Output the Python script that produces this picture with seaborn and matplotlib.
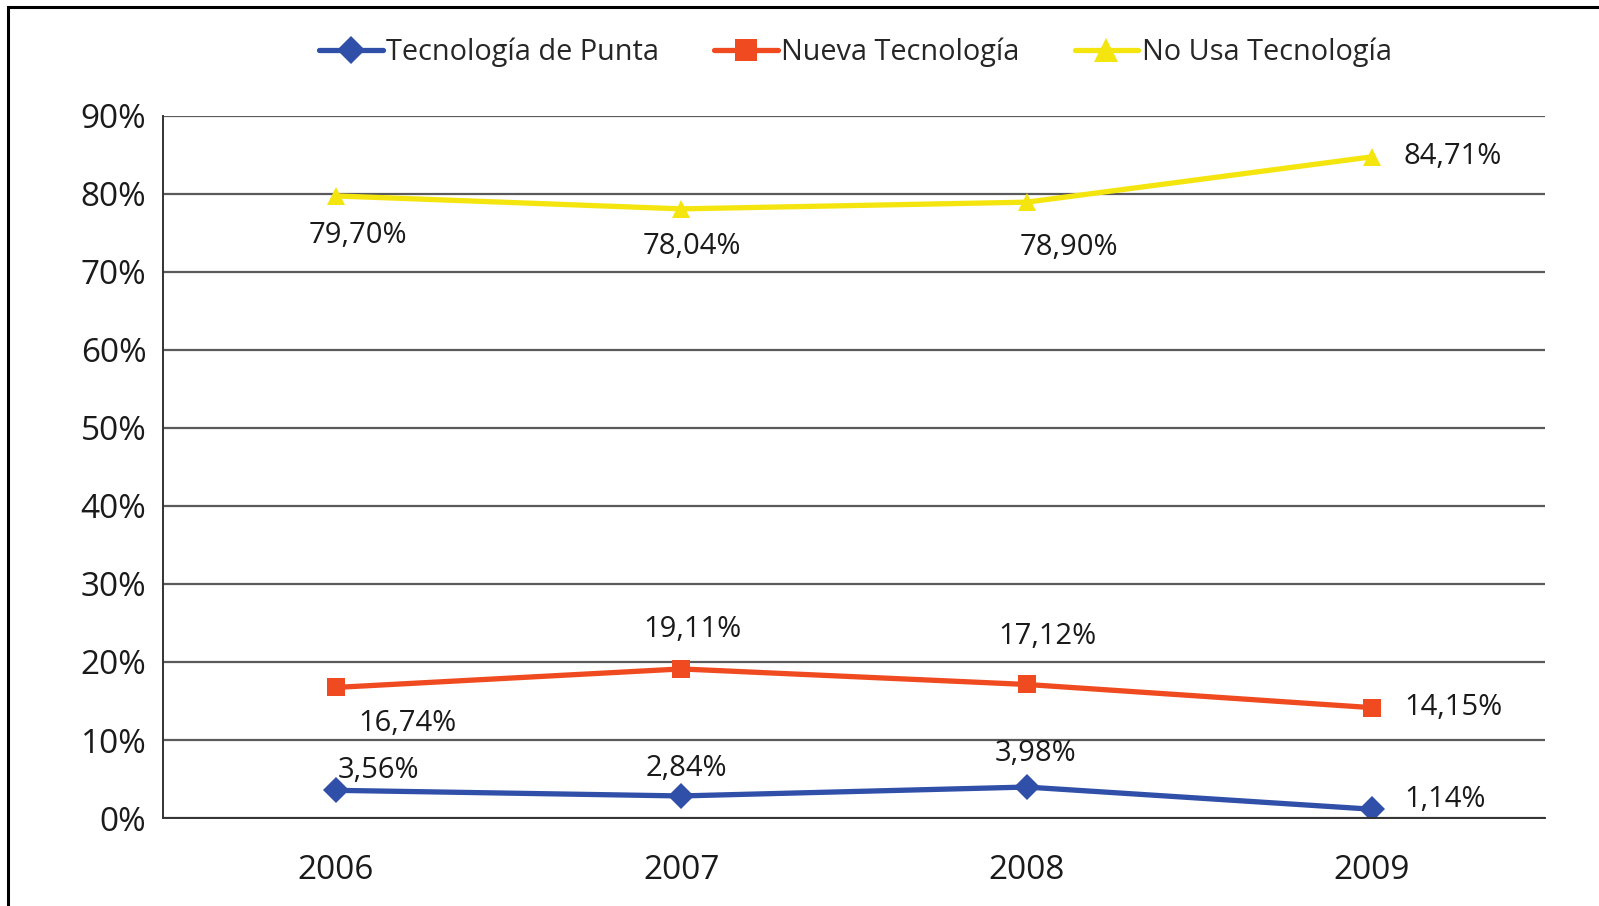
import pandas as pd
import matplotlib.pyplot as plt
import seaborn as sns
from matplotlib.patches import Rectangle
from matplotlib.ticker import FuncFormatter, FixedLocator

# Data
years = ["2006", "2007", "2008", "2009"]
series_names = ["Tecnología de Punta", "Nueva Tecnología", "No Usa Tecnología"]
punta = [3.56, 2.84, 3.98, 1.14]
nueva = [16.74, 19.11, 17.12, 14.15]
no_usa = [79.70, 78.04, 78.90, 84.71]
y_ticks = [0, 10, 20, 30, 40, 50, 60, 70, 80, 90]


def build_frame():
    rows = []
    for name, values in zip(series_names, [punta, nueva, no_usa]):
        for year, v in zip(years, values):
            rows.append({"year": year, "value": v, "serie": name})
    return pd.DataFrame(rows)


def fmt(v):
    return f"{v:.2f}".replace(".", ",") + "%"


def main():
    df = build_frame()

    sns.set_style("white")
    plt.rcParams["font.family"] = ["Open Sans", "DejaVu Sans"]

    colors = {series_names[0]: "#2F4FA8", series_names[1]: "#F04A20", series_names[2]: "#F5E50F"}
    markers = {series_names[0]: "D", series_names[1]: "s", series_names[2]: "^"}

    fig = plt.figure(figsize=(15.99, 9.06), dpi=100)
    ax = fig.add_axes([0.102, 0.097, 0.864, 0.7755])

    sns.lineplot(
        data=df, x="year", y="value", hue="serie", style="serie",
        hue_order=series_names, style_order=series_names,
        palette=colors, markers=markers, dashes=False,
        linewidth=3.8, markersize=13, markeredgewidth=0, ax=ax
    )
    sizes = {series_names[0]: 14, series_names[1]: 16, series_names[2]: 17}
    for line in ax.lines:
        lab = line.get_label()
        if lab in sizes:
            line.set_markersize(sizes[lab])

    # Data labels (offsets in pixels)
    offsets = {
        series_names[0]: [(43, 20, "center"), (5, 27, "center"), (9, 34, "center"), (32, 10, "left")],
        series_names[1]: [(72, -36, "center"), (11, 39, "center"), (21, 48, "center"), (32, 0, "left")],
        series_names[2]: [(22, -40, "center"), (11, -38, "center"), (42, -45, "center"), (32, 0, "left")],
    }
    for name, values in zip(series_names, [punta, nueva, no_usa]):
        for i, v in enumerate(values):
            dx, dy, ha = offsets[name][i]
            ax.annotate(fmt(v), (i, v), xytext=(dx, dy), textcoords="offset pixels",
                        ha=ha, va="center", fontsize=21, color="#1a1a1a")

    ax.set_ylim(0, 90)
    ax.set_xlim(-0.5, 3.5)
    ax.set_yticks(y_ticks)
    ax.yaxis.set_major_formatter(FuncFormatter(lambda v, p: f"{v:.0f}%"))
    ax.yaxis.grid(True, color="#5a5a5a", linewidth=1.6)
    ax.xaxis.grid(False)
    ax.set_axisbelow(True)
    ax.set_xlabel("")
    ax.set_ylabel("")

    ax.xaxis.set_minor_locator(FixedLocator([-0.5, 0.5, 1.5, 2.5, 3.5]))
    ax.tick_params(axis="x", which="major", length=0, pad=26, labelsize=24, colors="#1a1a1a")
    ax.tick_params(axis="x", which="minor", length=8, width=1.3, color="#333333")
    ax.tick_params(axis="y", length=6, width=1.3, pad=6, labelsize=24, colors="#1a1a1a")
    ax.tick_params(axis="y", color="#333333")

    for s in ["top", "right"]:
        ax.spines[s].set_visible(False)
    for s in ["left", "bottom"]:
        ax.spines[s].set_color("#333333")
        ax.spines[s].set_linewidth(1.4)

    handles, labels = ax.get_legend_handles_labels()
    ax.get_legend().remove()
    fig.legend(handles, labels, loc="center", bbox_to_anchor=(0.535, 0.942), ncol=3,
               frameon=False, fontsize=20.8, handlelength=2.2, handletextpad=0.12,
               columnspacing=1.9)

    # outer frame
    fig.patches.append(Rectangle((0.005, -0.05), 1.2, 1.05 - 0.008, transform=fig.transFigure,
                                 fill=False, edgecolor="black", linewidth=2.2))

    plt.savefig("out.png", dpi=100)


if __name__ == "__main__":
    main()
